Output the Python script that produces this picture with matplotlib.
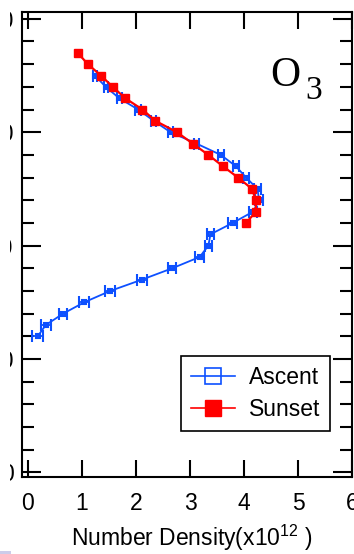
import matplotlib
matplotlib.use('Agg')
import matplotlib.pyplot as plt
from matplotlib.lines import Line2D
from matplotlib.patches import Rectangle
from matplotlib.transforms import Bbox, TransformedBbox
from matplotlib.ticker import MultipleLocator, FixedLocator

# ---- data ----
asc_alt = [35, 34, 33, 32, 31, 30, 29, 28, 27, 26, 25, 24, 23, 22, 21, 20,
           19, 18, 17, 16, 15, 14, 13, 12]
asc_dens = [1.24, 1.44, 1.69, 2.04, 2.33, 2.64, 3.12, 3.57, 3.85, 4.04, 4.25,
            4.28, 4.17, 3.79, 3.38, 3.34, 3.18, 2.67, 2.11, 1.52, 1.04, 0.65,
            0.33, 0.18]
asc_err = [0.04, 0.04, 0.05, 0.05, 0.05, 0.05, 0.05, 0.06, 0.06, 0.06, 0.07,
           0.07, 0.07, 0.08, 0.07, 0.07, 0.08, 0.08, 0.09, 0.09, 0.09, 0.08,
           0.09, 0.10]
sun_alt = [37, 36, 35, 34, 33, 32, 31, 30, 29, 28, 27, 26, 25, 24, 23, 22]
sun_dens = [0.92, 1.11, 1.35, 1.57, 1.80, 2.12, 2.36, 2.76, 3.05, 3.34, 3.61,
            3.89, 4.15, 4.22, 4.22, 4.04]
x_ticks = [0, 1, 2, 3, 4, 5, 6]
x_tick_labels = ['0', '1', '2', '3', '4', '5', '6']
y_ticks = [0, 10, 20, 30, 40]
y_tick_labels = ['0', '10', '20', '30', '40']
series_names = ['Ascent', 'Sunset']

BLUE = '#0d50ff'
RED = '#ff0000'

plt.rcParams['font.family'] = ['Liberation Sans', 'DejaVu Sans']
plt.rcParams['mathtext.fontset'] = 'custom'
plt.rcParams['mathtext.rm'] = 'Liberation Sans'

W, H = 354, 554
fig = plt.figure(figsize=(W / 100, H / 100), dpi=100)
ax = fig.add_axes([22 / W, 1 - 477 / H, 330 / W, 465 / H])

ax.errorbar(asc_dens, asc_alt, xerr=asc_err, color=BLUE, lw=1.3,
            marker='s', ms=3.5, mfc='none', mec=BLUE, mew=1.5,
            elinewidth=1.3, capsize=4, capthick=1.3, zorder=2)
ax.plot(sun_dens, sun_alt, color=RED, lw=1.6, marker='s', ms=6,
        mfc=RED, mec=RED, zorder=3)

ax.set_xlim(-0.11, 6.0)
ax.set_ylim(-0.4, 40.6)
ax.xaxis.set_major_locator(FixedLocator(x_ticks))
ax.set_xticklabels(x_tick_labels)
ax.yaxis.set_major_locator(FixedLocator(y_ticks))
ax.set_yticklabels(y_tick_labels)
ax.yaxis.set_minor_locator(MultipleLocator(2))

for s in ax.spines.values():
    s.set_linewidth(1.5)

ax.tick_params(which='both', direction='in', top=True, right=True,
               width=1.5, labelsize=16.5)
ax.tick_params(axis='y', which='major', length=13.5, pad=6)
ax.tick_params(axis='y', which='minor', length=8.5)
ax.tick_params(axis='x', which='major', length=12.5, pad=11)

ax.set_xlabel(r'Number Density(x10$^{\mathregular{12}}$ )', fontsize=16.5)
ax.xaxis.set_label_coords(0.515, -0.098)

handles = [
    Line2D([], [], color=BLUE, lw=1.2, marker='s', ms=11, mfc='none',
           mec=BLUE, mew=1.2),
    Line2D([], [], color=RED, lw=1.2, marker='s', ms=11, mfc=RED, mec=RED),
]
leg = ax.legend(handles, series_names, loc='upper left',
                bbox_to_anchor=(0.482, 0.260), borderaxespad=0,
                fontsize=16.5, fancybox=False, framealpha=1, edgecolor='black',
                handlelength=1.95, handletextpad=0.6, borderpad=0.42,
                labelspacing=0.42)
leg.get_frame().set_linewidth(1.2)

fig.text(270.5 / W, 1 - 85.5 / H, 'O', fontsize=30,
         family='Liberation Serif', ha='left', va='baseline')
fig.text(305 / W, 1 - 99 / H, '3', fontsize=24,
         family='Liberation Serif', ha='left', va='baseline')

clip = TransformedBbox(Bbox.from_extents(9.5 / W, 0, 22 / W, 1),
                       fig.transFigure)
for lab in ax.get_yticklabels():
    lab.set_clip_on(True)
    lab.set_clip_box(clip)

fig.patches.append(Rectangle((0, 0), 11 / W, 3 / H, transform=fig.transFigure,
                             facecolor='#ccccea', edgecolor='none'))

fig.savefig('out.png', dpi=100)
